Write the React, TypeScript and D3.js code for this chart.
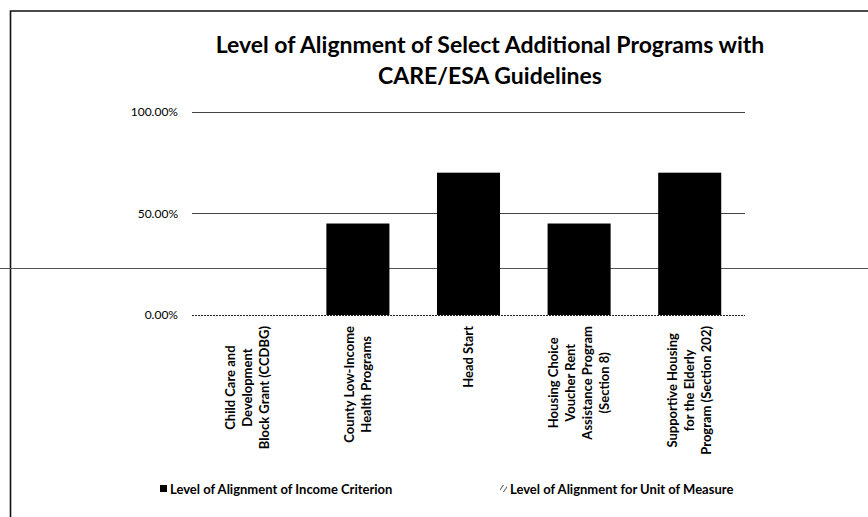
import React, { useRef, useEffect } from "react";
import * as d3 from "d3";

// chart data
const titleLines = [
  "Level of Alignment of Select Additional Programs with",
  "CARE/ESA Guidelines",
];
const categories = [
  "Child Care and\nDevelopment\nBlock Grant (CCDBG)",
  "County Low-Income\nHealth Programs",
  "Head Start",
  "Housing Choice\nVoucher Rent\nAssistance Program\n(Section 8)",
  "Supportive Housing\nfor the Elderly\nProgram (Section 202)",
];
const incomeValues = [0, 0.45, 0.7, 0.45, 0.7];
const unitValues = [0, 0, 0, 0, 0];
const seriesNames = [
  "Level of Alignment of Income Criterion",
  "Level of Alignment for Unit of Measure",
];
const yTicks = [0, 0.5, 1];

const W = 868;
const H = 517;
const FONT = "Lato, 'Open Sans', sans-serif";

const Chart: React.FC = () => {
  const svgRef = useRef<SVGSVGElement>(null);

  useEffect(() => {
    if (!svgRef.current) return;
    document.body.style.margin = "0";

    const svg = d3.select(svgRef.current);
    svg.selectAll("*").remove();

    // plot box
    const plot = { left: 192, right: 745, top: 111.7, bottom: 315 };

    const x = d3
      .scaleBand<string>()
      .domain(categories)
      .range([plot.left, plot.right]);
    const y = d3.scaleLinear().domain([0, 1]).range([plot.bottom, plot.top]);
    const barW = x.bandwidth() * 0.57;

    // hatch pattern for the second series
    const defs = svg.append("defs");
    const pat = defs
      .append("pattern")
      .attr("id", "hatch")
      .attr("patternUnits", "userSpaceOnUse")
      .attr("width", 4)
      .attr("height", 4)
      .attr("patternTransform", "rotate(35)");
    pat
      .append("line")
      .attr("x1", 0)
      .attr("y1", 0)
      .attr("x2", 0)
      .attr("y2", 4)
      .attr("stroke", "#222")
      .attr("stroke-width", 1.4);

    svg.append("rect").attr("width", W).attr("height", H).attr("fill", "#fff");

    // frame (scan shows top and left edges)
    svg
      .append("path")
      .attr("d", `M10.5,${H} L10.5,11 L${W},11`)
      .attr("fill", "none")
      .attr("stroke", "#111")
      .attr("stroke-width", 1.6);

    // stray horizontal rule across the page
    svg
      .append("line")
      .attr("x1", 0)
      .attr("x2", W)
      .attr("y1", 268.5)
      .attr("y2", 268.5)
      .attr("stroke", "#555")
      .attr("stroke-width", 1.2);

    // title
    svg
      .append("g")
      .selectAll("text")
      .data(titleLines)
      .join("text")
      .attr("x", 490)
      .attr("y", (_, i) => 53 + i * 31)
      .attr("text-anchor", "middle")
      .style("font-family", FONT)
      .style("font-weight", "bold")
      .style("font-size", "23px")
      .attr("fill", "#000")
      .text((d) => d);

    // gridlines
    svg
      .append("g")
      .selectAll("line")
      .data(yTicks)
      .join("line")
      .attr("x1", plot.left)
      .attr("x2", plot.right)
      .attr("y1", (d) => Math.round(y(d)) + 0.5)
      .attr("y2", (d) => Math.round(y(d)) + 0.5)
      .attr("stroke", (d) => (d === 0 ? "#222" : "#444"))
      .attr("stroke-width", 1)
      .attr("stroke-dasharray", (d) => (d === 0 ? "2,1" : null));

    // y axis labels
    const yAxis = svg
      .append("g")
      .attr("transform", `translate(${plot.left},0)`)
      .call(
        d3
          .axisLeft(y)
          .tickValues(yTicks)
          .tickSize(0)
          .tickPadding(14)
          .tickFormat(d3.format(".2%") as any)
      );
    yAxis.select(".domain").remove();
    yAxis
      .selectAll("text")
      .style("font-family", FONT)
      .style("font-size", "12px")
      .attr("fill", "#000");

    // bars
    const bars = svg.append("g");
    bars
      .selectAll("rect.unit")
      .data(unitValues)
      .join("rect")
      .attr("class", "unit")
      .attr("x", (_, i) => x(categories[i])! + (x.bandwidth() - barW) / 2)
      .attr("width", barW)
      .attr("y", (d) => y(d))
      .attr("height", (d) => y(0) - y(d))
      .attr("fill", "url(#hatch)");
    bars
      .selectAll("rect.income")
      .data(incomeValues)
      .join("rect")
      .attr("class", "income")
      .attr("x", (_, i) => x(categories[i])! + (x.bandwidth() - barW) / 2)
      .attr("width", barW)
      .attr("y", (d) => y(d))
      .attr("height", (d) => y(0) - y(d))
      .attr("fill", "#000");

    // category labels, rotated, block anchored just below the axis
    const lineGap = 17;
    const labelTop = plot.bottom + 11;
    categories.forEach((cat) => {
      const lines = cat.split("\n");
      const cx = x(cat)! + x.bandwidth() / 2;
      const g = svg.append("g");
      const texts = g
        .selectAll("text")
        .data(lines)
        .join("text")
        .attr("text-anchor", "middle")
        .attr("dy", "0.35em")
        .style("font-family", FONT)
        .style("font-weight", "bold")
        .style("font-size", "13px")
        .attr("fill", "#000")
        .text((d) => d);
      let maxLen = 0;
      texts.each(function () {
        maxLen = Math.max(maxLen, (this as SVGTextElement).getComputedTextLength());
      });
      texts.attr("transform", (_, i) => {
        const lx = cx + (i - (lines.length - 1) / 2) * lineGap;
        return `translate(${lx},${labelTop + maxLen / 2}) rotate(-90)`;
      });
    });

    // legend
    const legendY = 489;
    const legendX = [160, 500];
    const leg = svg
      .append("g")
      .selectAll("g")
      .data(seriesNames)
      .join("g")
      .attr("transform", (_, i) => `translate(${legendX[i]},${legendY})`);
    leg
      .append("rect")
      .attr("x", 0)
      .attr("y", -4)
      .attr("width", 7)
      .attr("height", 7)
      .attr("fill", (_, i) => (i === 0 ? "#000" : "url(#hatch)"));
    leg
      .append("text")
      .attr("x", 10)
      .attr("y", 0)
      .attr("dy", "0.35em")
      .style("font-family", FONT)
      .style("font-weight", "bold")
      .style("font-size", "13px")
      .attr("fill", "#000")
      .text((d) => d);
  }, []);

  return <svg ref={svgRef} width={W} height={H} style={{ display: "block" }} />;
};

export default function App() {
  return <Chart />;
}
